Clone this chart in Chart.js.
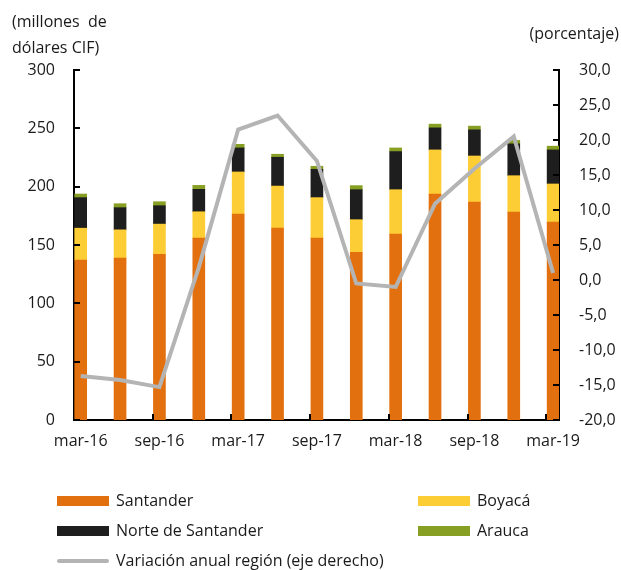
<!DOCTYPE html>
<html>
<head>
<meta charset="utf-8">
<script src="https://cdn.jsdelivr.net/npm/chart.js@4/dist/chart.umd.min.js"></script>
<style>
  html, body { margin: 0; padding: 0; background: #fff; }
  #wrap { position: relative; width: 621px; height: 570px; font-family: "Open Sans", sans-serif; color: #1a1a1a; }
  canvas { position: absolute; left: 0; top: 0; }
  .t { position: absolute; font-size: 16px; line-height: 26px; white-space: nowrap; }
  .lg { position: absolute; font-size: 16px; line-height: 20px; white-space: nowrap; }
  .sw { position: absolute; width: 52px; height: 10px; }
</style>
</head>
<body>
<div id="wrap">
  <canvas id="c" width="621" height="570"></canvas>
  <div class="t" style="left:12px; top:8px;">(millones&nbsp; de</div>
  <div class="t" style="left:12px; top:34px;">dólares CIF)</div>
  <div class="t" style="right:2px; top:20px;">(porcentaje)</div>
  <div id="legend"></div>
</div>
<script>
const categories = ["mar-16","jun-16","sep-16","dic-16","mar-17","jun-17","sep-17","dic-17","mar-18","jun-18","sep-18","dic-18","mar-19"];
const santander = [137.0, 138.7, 142.0, 156.0, 176.5, 164.4, 155.9, 143.8, 159.3, 193.7, 186.8, 178.2, 169.6];
const boyaca    = [27.4, 24.3, 25.9, 22.5, 36.1, 36.1, 34.7, 27.9, 38.1, 37.8, 39.5, 31.2, 32.7];
const norte     = [26.2, 19.0, 15.8, 19.2, 20.6, 24.7, 24.3, 25.7, 32.7, 18.9, 22.4, 27.3, 29.2];
const arauca    = [3.1, 3.4, 3.4, 3.4, 3.1, 2.6, 2.6, 3.5, 3.1, 3.2, 3.2, 2.9, 3.2];
const variacion = [-13.7, -14.3, -15.3, 1.8, 21.5, 23.5, 17.0, -0.5, -1.0, 10.9, 15.9, 20.5, 1.0];
const xLabelIdx = [0, 2, 4, 6, 8, 10, 12];
const leftTicks = [0, 50, 100, 150, 200, 250, 300];
const rightTicks = [-20, -15, -10, -5, 0, 5, 10, 15, 20, 25, 30];

const seriesNames = ["Santander", "Boyacá", "Norte de Santander", "Arauca", "Variación anual región (eje derecho)"];
const colors = ["#E3700E", "#FCCD34", "#1E1E1E", "#87A024", "#B4B4B4"];

const pts = arr => arr.map((v, i) => ({ x: i, y: v }));
const font = { family: "Open Sans", size: 16 };
const txt = "#1a1a1a";

const innerTicks = {
  id: 'innerTicks',
  afterDraw(chart) {
    const ctx = chart.ctx, a = chart.chartArea;
    const sx = chart.scales.x, sy = chart.scales.y, sy1 = chart.scales.y1;
    ctx.save();
    ctx.strokeStyle = "#000";
    ctx.lineWidth = 2;
    ctx.beginPath();
    leftTicks.forEach(v => { const y = Math.round(sy.getPixelForValue(v)); ctx.moveTo(a.left, y); ctx.lineTo(a.left + 6, y); });
    rightTicks.forEach(v => { const y = Math.round(sy1.getPixelForValue(v)); ctx.moveTo(a.right, y); ctx.lineTo(a.right - 6, y); });
    [2, 4, 6, 8, 10, 12].forEach(v => { const x = Math.round(sx.getPixelForValue(v - 0.17)); ctx.moveTo(x, a.bottom); ctx.lineTo(x, a.bottom - 6); });
    ctx.stroke();
    ctx.restore();
  }
};

new Chart(document.getElementById('c'), {
  data: {
    datasets: [
      { type: 'line', label: seriesNames[4], data: pts(variacion), yAxisID: 'y1', borderColor: colors[4], borderWidth: 4, pointRadius: 0, tension: 0, order: 0, borderJoinStyle: 'miter' },
      { type: 'bar', label: seriesNames[0], data: pts(santander), backgroundColor: colors[0], yAxisID: 'y', barThickness: 12, order: 1 },
      { type: 'bar', label: seriesNames[1], data: pts(boyaca), backgroundColor: colors[1], yAxisID: 'y', barThickness: 12, order: 1 },
      { type: 'bar', label: seriesNames[2], data: pts(norte), backgroundColor: colors[2], yAxisID: 'y', barThickness: 12, order: 1 },
      { type: 'bar', label: seriesNames[3], data: pts(arauca), backgroundColor: colors[3], yAxisID: 'y', barThickness: 12, order: 1 }
    ]
  },
  options: {
    responsive: false,
    animation: false,
    layout: { padding: { top: 70, bottom: 110, left: 0, right: 0 } },
    plugins: { legend: { display: false }, tooltip: { enabled: false } },
    scales: {
      x: {
        type: 'linear', stacked: true, min: -0.17, max: 12.149, offset: false,
        grid: { display: false, drawTicks: false, offset: false },
        border: { display: true, color: "#000", width: 2 },
        afterBuildTicks: s => { s.ticks = xLabelIdx.map(v => ({ value: v })); },
        afterFit: s => { s.height = 40; },
        ticks: { font: font, color: txt, padding: 12, maxRotation: 0, autoSkip: false, callback: v => categories[v] }
      },
      y: {
        position: 'left', stacked: true, min: 0, max: 300,
        grid: { display: false, drawTicks: false },
        border: { display: true, color: "#000", width: 2 },
        afterBuildTicks: s => { s.ticks = leftTicks.map(v => ({ value: v })); },
        afterFit: s => { s.width = 74; },
        ticks: { font: font, color: txt, padding: 19 }
      },
      y1: {
        position: 'right', min: -20, max: 30,
        grid: { display: false, drawTicks: false },
        border: { display: true, color: "#000", width: 2 },
        afterBuildTicks: s => { s.ticks = rightTicks.map(v => ({ value: v })); },
        afterFit: s => { s.width = 62; },
        ticks: { font: font, color: txt, padding: 20, callback: v => v.toFixed(1).replace('.', ',') }
      }
    }
  },
  plugins: [innerTicks]
});

// HTML legend
const lg = document.getElementById('legend');
const legendPos = [
  { sx: 57, tx: 116, cy: 501 },
  { sx: 418, tx: 477, cy: 501 },
  { sx: 57, tx: 116, cy: 531 },
  { sx: 418, tx: 477, cy: 531 },
  { sx: 57, tx: 116, cy: 561 }
];
seriesNames.forEach((name, i) => {
  const p = legendPos[i];
  const sw = document.createElement('div');
  sw.className = 'sw';
  sw.style.left = p.sx + 'px';
  sw.style.background = colors[i];
  if (i === 4) { sw.style.height = '4px'; sw.style.top = (p.cy - 2) + 'px'; sw.style.borderRadius = '2px'; }
  else { sw.style.top = (p.cy - 5) + 'px'; }
  lg.appendChild(sw);
  const t = document.createElement('div');
  t.className = 'lg';
  t.style.left = p.tx + 'px';
  t.style.top = (p.cy - 11) + 'px';
  t.textContent = name;
  lg.appendChild(t);
});
</script>
</body>
</html>
